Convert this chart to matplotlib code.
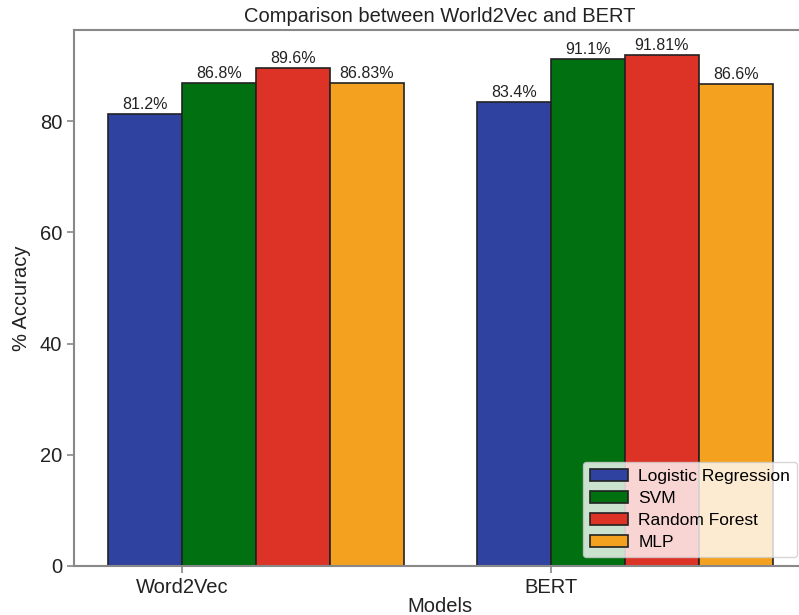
import numpy as np
import matplotlib.pyplot as plt

plt.rcParams['font.family'] = ['Liberation Sans', 'DejaVu Sans']

# Datos
modelos = ['Word2Vec', 'BERT']
clasificadores = ['Logistic Regression', 'SVM', 'Random Forest', 'MLP']
acc_lr = [81.2, 83.4]
acc_svm = [86.8, 91.1]
acc_rf = [89.6, 91.81]
acc_mlp = [86.83, 86.6]
etiquetas = [['81.2%', '83.4%'], ['86.8%', '91.1%'],
             ['89.6%', '91.81%'], ['86.83%', '86.6%']]

colores = ['#2f429f', '#007010', '#dd3226', '#f4a11f']

fig = plt.figure(figsize=(7.99, 6.15), dpi=100)
ax = fig.add_axes([0.0926, 0.0797, 0.916, 0.8716])

x = np.arange(len(modelos))
w = 0.2
series = [acc_lr, acc_svm, acc_rf, acc_mlp]
for i, (vals, lab, col) in enumerate(zip(series, clasificadores, colores)):
    barras = ax.bar(x - w/2 + i*w, vals, w, color=col, edgecolor='#222222',
                    linewidth=1.2, label=lab)
    ax.bar_label(barras, labels=etiquetas[i], padding=1.5, fontsize=11.5,
                 color='#222222')

ax.set_xticks(x)
ax.set_xticklabels(modelos)
ax.set_ylim(0, 96.4)
ax.set_xlim(-0.293, 1.69)
ax.set_yticks([0, 20, 40, 60, 80])
ax.tick_params(axis='both', labelsize=14.5, color='#888888', length=5,
               width=1.2, labelcolor='#222222')

for s in ax.spines.values():
    s.set_color('#888888')
    s.set_linewidth(1.5)

ax.set_title('Comparison between World2Vec and BERT', fontsize=14.5,
             color='#222222', pad=6)
ax.set_xlabel('Models', fontsize=14.5, color='#222222', labelpad=0)
ax.set_ylabel('% Accuracy', fontsize=14.5, color='#222222', labelpad=6)

ax.legend(loc='lower right', fontsize=12.5, handlelength=2.2,
          labelspacing=0.4, borderpad=0.4, handletextpad=0.6)

fig.savefig('out.png', dpi=100)
